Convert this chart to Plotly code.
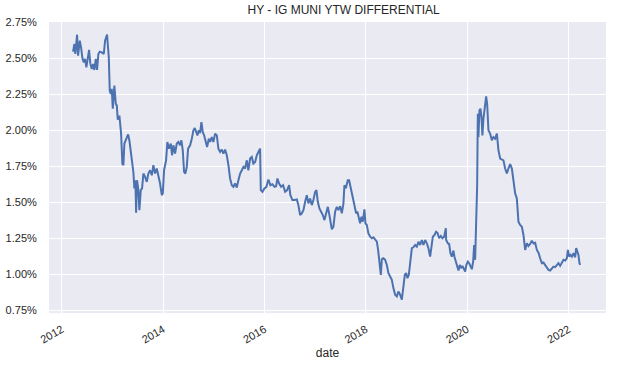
import pandas as pd
import plotly.graph_objects as go

# Observation times (decimal years) and HY - IG muni yield-to-worst differential (%)
years = [
    2012.223, 2012.249, 2012.268, 2012.302, 2012.322, 2012.355, 2012.381, 2012.407, 2012.434, 2012.460,
    2012.486, 2012.513, 2012.539, 2012.565, 2012.592, 2012.618, 2012.644, 2012.671, 2012.697, 2012.722,
    2012.750, 2012.790, 2012.829, 2012.855, 2012.880, 2012.894, 2012.908, 2012.928, 2012.947, 2012.967,
    2012.987, 2013.007, 2013.038, 2013.066, 2013.086, 2013.105, 2013.137, 2013.171, 2013.196, 2013.216,
    2013.236, 2013.275, 2013.309, 2013.334, 2013.368, 2013.394, 2013.413, 2013.433, 2013.453, 2013.467,
    2013.486, 2013.512, 2013.532, 2013.559, 2013.585, 2013.611, 2013.644, 2013.678, 2013.709, 2013.743,
    2013.777, 2013.808, 2013.842, 2013.875, 2013.907, 2013.940, 2013.974, 2013.994, 2014.019, 2014.059,
    2014.084, 2014.118, 2014.152, 2014.177, 2014.203, 2014.236, 2014.270, 2014.302, 2014.335, 2014.361,
    2014.388, 2014.414, 2014.440, 2014.467, 2014.493, 2014.533, 2014.566, 2014.598, 2014.625, 2014.651,
    2014.677, 2014.704, 2014.730, 2014.756, 2014.783, 2014.809, 2014.835, 2014.868, 2014.902, 2014.927,
    2014.961, 2014.992, 2015.026, 2015.060, 2015.091, 2015.125, 2015.158, 2015.190, 2015.223, 2015.257,
    2015.289, 2015.322, 2015.356, 2015.387, 2015.421, 2015.454, 2015.486, 2015.520, 2015.553, 2015.585,
    2015.618, 2015.652, 2015.683, 2015.717, 2015.750, 2015.782, 2015.816, 2015.849, 2015.881, 2015.914,
    2015.928, 2015.960, 2015.999, 2016.039, 2016.078, 2016.118, 2016.157, 2016.197, 2016.230, 2016.256,
    2016.289, 2016.329, 2016.368, 2016.408, 2016.447, 2016.487, 2016.512, 2016.552, 2016.591, 2016.639,
    2016.670, 2016.704, 2016.737, 2016.769, 2016.803, 2016.836, 2016.868, 2016.901, 2016.935, 2016.966,
    2017.000, 2017.026, 2017.053, 2017.085, 2017.118, 2017.152, 2017.184, 2017.217, 2017.251, 2017.276,
    2017.302, 2017.330, 2017.361, 2017.395, 2017.428, 2017.460, 2017.493, 2017.527, 2017.559, 2017.578,
    2017.606, 2017.645, 2017.671, 2017.705, 2017.736, 2017.756, 2017.784, 2017.809, 2017.835, 2017.863,
    2017.888, 2017.914, 2017.941, 2017.973, 2017.993, 2018.020, 2018.052, 2018.086, 2018.119, 2018.151,
    2018.184, 2018.218, 2018.243, 2018.269, 2018.297, 2018.317, 2018.348, 2018.382, 2018.415, 2018.447,
    2018.480, 2018.514, 2018.545, 2018.579, 2018.613, 2018.644, 2018.678, 2018.711, 2018.743, 2018.770,
    2018.796, 2018.822, 2018.849, 2018.875, 2018.909, 2018.940, 2018.974, 2019.007, 2019.039, 2019.072,
    2019.106, 2019.138, 2019.171, 2019.205, 2019.236, 2019.270, 2019.296, 2019.323, 2019.355, 2019.388,
    2019.414, 2019.448, 2019.481, 2019.513, 2019.546, 2019.580, 2019.586, 2019.619, 2019.645, 2019.671,
    2019.698, 2019.730, 2019.750, 2019.777, 2019.803, 2019.829, 2019.856, 2019.882, 2019.908, 2019.935,
    2019.961, 2019.986, 2020.014, 2020.040, 2020.065, 2020.093, 2020.119, 2020.138, 2020.158, 2020.172,
    2020.184, 2020.198, 2020.211, 2020.223, 2020.243, 2020.263, 2020.283, 2020.302, 2020.322, 2020.356,
    2020.375, 2020.395, 2020.409, 2020.421, 2020.454, 2020.488, 2020.519, 2020.553, 2020.587, 2020.618,
    2020.652, 2020.685, 2020.717, 2020.750, 2020.784, 2020.815, 2020.849, 2020.883, 2020.914, 2020.948,
    2020.981, 2021.013, 2021.046, 2021.080, 2021.112, 2021.145, 2021.179, 2021.210, 2021.244, 2021.277,
    2021.309, 2021.343, 2021.376, 2021.408, 2021.441, 2021.475, 2021.506, 2021.540, 2021.574, 2021.605,
    2021.639, 2021.672, 2021.704, 2021.737, 2021.771, 2021.802, 2021.836, 2021.870, 2021.901, 2021.935,
    2021.968, 2021.988, 2022.014, 2022.039, 2022.067, 2022.099, 2022.132, 2022.152, 2022.178, 2022.197,
    2022.217, 2022.231,
]

spread_pct = [
    2.546, 2.599, 2.530, 2.664, 2.518, 2.622, 2.576, 2.502, 2.472, 2.496,
    2.437, 2.507, 2.558, 2.461, 2.426, 2.461, 2.419, 2.496, 2.419, 2.530,
    2.546, 2.541, 2.530, 2.622, 2.657, 2.664, 2.599, 2.507, 2.276, 2.253,
    2.288, 2.150, 2.311, 2.184, 2.173, 2.074, 2.103, 1.977, 1.769, 1.758,
    1.908, 1.942, 1.972, 1.931, 1.839, 1.746, 1.711, 1.597, 1.654, 1.428,
    1.654, 1.585, 1.446, 1.585, 1.597, 1.700, 1.677, 1.642, 1.700, 1.723,
    1.688, 1.758, 1.700, 1.735, 1.688, 1.631, 1.550, 1.562, 1.723, 1.792,
    1.919, 1.873, 1.908, 1.827, 1.896, 1.839, 1.908, 1.919, 1.896, 1.931,
    1.861, 1.711, 1.700, 1.746, 1.873, 1.896, 1.942, 2.000, 2.016, 1.988,
    1.965, 2.000, 1.981, 2.057, 1.988, 1.965, 1.919, 1.884, 1.942, 1.919,
    1.953, 1.919, 1.977, 1.965, 1.873, 1.850, 1.866, 1.839, 1.866, 1.827,
    1.758, 1.666, 1.619, 1.608, 1.631, 1.603, 1.654, 1.700, 1.723, 1.746,
    1.735, 1.792, 1.723, 1.804, 1.815, 1.769, 1.780, 1.827, 1.850, 1.873,
    1.585, 1.573, 1.597, 1.608, 1.659, 1.619, 1.626, 1.608, 1.612, 1.666,
    1.631, 1.608, 1.619, 1.573, 1.585, 1.619, 1.550, 1.516, 1.516, 1.520,
    1.481, 1.412, 1.424, 1.446, 1.504, 1.550, 1.493, 1.527, 1.481, 1.516,
    1.573, 1.585, 1.504, 1.458, 1.435, 1.412, 1.377, 1.435, 1.469, 1.424,
    1.354, 1.313, 1.331, 1.435, 1.469, 1.446, 1.474, 1.424, 1.493, 1.619,
    1.597, 1.654, 1.654, 1.597, 1.550, 1.516, 1.446, 1.424, 1.435, 1.389,
    1.354, 1.400, 1.366, 1.451, 1.354, 1.343, 1.285, 1.262, 1.251, 1.258,
    1.244, 1.227, 1.170, 1.101, 0.997, 1.106, 1.112, 1.101, 1.066, 1.009,
    0.985, 0.962, 0.905, 0.859, 0.847, 0.881, 0.859, 0.824, 0.916, 0.997,
    1.009, 0.974, 0.997, 1.101, 1.182, 1.188, 1.204, 1.193, 1.227, 1.204,
    1.239, 1.204, 1.239, 1.216, 1.182, 1.123, 1.204, 1.262, 1.273, 1.296,
    1.289, 1.251, 1.267, 1.251, 1.262, 1.320, 1.239, 1.216, 1.211, 1.147,
    1.123, 1.165, 1.123, 1.089, 1.066, 1.027, 1.066, 1.043, 1.059, 1.031,
    1.020, 1.066, 1.089, 1.078, 1.054, 1.036, 1.089, 1.204, 1.101, 1.308,
    1.516, 1.619, 2.115, 1.953, 2.138, 2.150, 2.092, 1.965, 2.081, 2.184,
    2.235, 2.184, 2.069, 2.000, 1.977, 1.931, 1.953, 1.942, 1.977, 1.861,
    1.804, 1.797, 1.792, 1.735, 1.700, 1.735, 1.765, 1.735, 1.642, 1.562,
    1.527, 1.366, 1.343, 1.331, 1.273, 1.170, 1.216, 1.197, 1.211, 1.234,
    1.216, 1.220, 1.170, 1.151, 1.112, 1.078, 1.082, 1.066, 1.054, 1.031,
    1.027, 1.043, 1.054, 1.050, 1.066, 1.078, 1.059, 1.082, 1.101, 1.096,
    1.112, 1.170, 1.123, 1.135, 1.123, 1.147, 1.119, 1.182, 1.147, 1.135,
    1.078, 1.066,
]

year_ticks = [2012, 2014, 2016, 2018, 2020, 2022]
y_ticks = [0.75, 1.00, 1.25, 1.50, 1.75, 2.00, 2.25, 2.50, 2.75]
title_text = "HY - IG MUNI YTW DIFFERENTIAL"
x_label = "date"

base = pd.Timestamp("2012-01-01")
dates = [base + pd.Timedelta(days=(y - 2012) * 365.25) for y in years]

fig = go.Figure()
fig.add_trace(go.Scatter(
    x=dates, y=spread_pct, mode="lines",
    line=dict(color="#4C72B0", width=2),
    showlegend=False,
))

font_family = "Liberation Sans, Arial, sans-serif"
fig.update_layout(
    width=619, height=366,
    margin=dict(l=49, r=13, t=22, b=53, autoexpand=False),
    paper_bgcolor="white",
    plot_bgcolor="#EAEAF2",
    font=dict(family=font_family, size=11, color="#262626"),
    title=dict(text=title_text, x=0.529, xanchor="center", xref="paper",
               y=0.972, yanchor="middle", yref="container",
               font=dict(size=12, color="#262626")),
)
fig.update_xaxes(
    type="date",
    range=["2011-10-01", "2022-09-28"],
    tickvals=[f"{y}-01-01" for y in year_ticks],
    ticktext=[str(y) for y in year_ticks],
    tickangle=-30,
    automargin=False,
    showgrid=True, gridcolor="white", gridwidth=1.2,
    zeroline=False, showline=False,
    ticks="outside", ticklen=5, tickcolor="rgba(0,0,0,0)",
    title=dict(text=x_label, standoff=4, font=dict(size=12)),
)
fig.update_yaxes(
    range=[0.732, 2.752],
    tickvals=y_ticks,
    ticktext=[f"{v:.2f}%" for v in y_ticks],
    automargin=False,
    showgrid=True, gridcolor="white", gridwidth=1.2,
    zeroline=False, showline=False,
    ticks="outside", ticklen=9, tickcolor="rgba(0,0,0,0)",
)

fig.write_html("out.html", config={"displayModeBar": False},
               post_script="document.body.style.margin='0';")
